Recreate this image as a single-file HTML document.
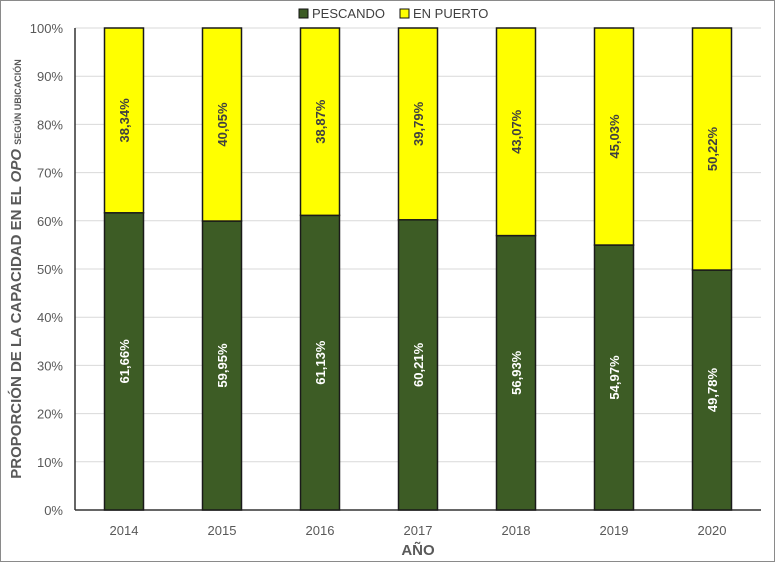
<!DOCTYPE html>
<html><head><meta charset="utf-8"><style>
body{margin:0;background:#fff;}
svg{display:block;font-family:"Liberation Sans",sans-serif;}
</style></head><body>
<svg id="c" width="775" height="562">
<rect x="0.5" y="0.5" width="774" height="561" fill="#fff" stroke="#8a8a8a"/>
<g id="grid"></g>
<g id="bars"></g>
<g id="yt"></g>
<g id="xt"></g>
<g>
<rect x="299" y="9" width="9" height="9" fill="#3d5c25" stroke="#111"/>
<text x="312" y="18" font-size="13" fill="#404040">PESCANDO</text>
<rect x="400" y="9" width="9" height="9" fill="#ffff00" stroke="#111"/>
<text x="413" y="18" font-size="13" fill="#404040">EN PUERTO</text>
</g>
<text x="418" y="555" text-anchor="middle" font-size="15" font-weight="bold" fill="#595959">AÑO</text>
<text transform="translate(21,269) rotate(-90)" text-anchor="middle" font-size="15" font-weight="bold" fill="#595959">PROPORCIÓN DE LA CAPACIDAD EN EL <tspan font-style="italic">OPO</tspan> <tspan font-size="9">SEGÚN UBICACIÓN</tspan></text>
</svg>
<script>
const years=["2014","2015","2016","2017","2018","2019","2020"];
const pescando=[61.66,59.95,61.13,60.21,56.93,54.97,49.78];
const puerto=[38.34,40.05,38.87,39.79,43.07,45.03,50.22];
const yTicks=[0,10,20,30,40,50,60,70,80,90,100];
const NS="http://www.w3.org/2000/svg";
const L=75,R=761,T=28,B=510,bw=39;
const step=(R-L)/years.length;
const xC=i=>L+step*(i+0.5);
const y=v=>B-(v/100)*(B-T);
function mk(tag,attrs,parent,txt){const e=document.createElementNS(NS,tag);for(const k in attrs)e.setAttribute(k,attrs[k]);if(txt!==undefined)e.textContent=txt;parent.appendChild(e);return e;}
const g=document.getElementById('grid'),bars=document.getElementById('bars'),yt=document.getElementById('yt'),xt=document.getElementById('xt');
yTicks.forEach(t=>{
  const l=mk('line',{x1:L,x2:R,y1:y(t),y2:y(t),stroke:t===0?'#333':'#d9d9d9','stroke-width':t===0?1.5:1},g);
  
  
  const tx=mk('text',{x:L-12,y:y(t)+5,'text-anchor':'end','font-size':13,fill:'#595959'},yt,t+'%');
  
  
});
const ax=mk('line',{x1:L,x2:L,y1:T,y2:B,stroke:'#333','stroke-width':1.5},g);


const fmt=v=>v.toFixed(2).replace('.',',')+'%';
years.forEach((yr,i)=>{
  const x=xC(i)-bw/2;
  const a=mk('rect',{x:x,y:y(pescando[i]),width:bw,height:B-y(pescando[i]),fill:'#3d5c25',stroke:'#1a1a1a','stroke-width':1.5},bars);
  
  
  const b=mk('rect',{x:x,y:y(pescando[i]+puerto[i]),width:bw,height:y(pescando[i])-y(pescando[i]+puerto[i]),fill:'#ffff00',stroke:'#1a1a1a','stroke-width':1.5},bars);
  
  
  const ym=(B+y(pescando[i]))/2;
  const t1=mk('text',{transform:`translate(${xC(i)+5},${ym}) rotate(-90)`,'text-anchor':'middle','font-size':13,'font-weight':'bold',fill:'#fff'},bars,fmt(pescando[i]));
  
  
  const yp=(y(pescando[i])+y(pescando[i]+puerto[i]))/2;
  const t2=mk('text',{transform:`translate(${xC(i)+5},${yp}) rotate(-90)`,'text-anchor':'middle','font-size':13,'font-weight':'bold',fill:'#404040'},bars,fmt(puerto[i]));
  
  
  const xl=mk('text',{x:xC(i),y:535,'text-anchor':'middle','font-size':13,fill:'#595959'},xt,yr);
  
  
});
</script>
</body></html>
